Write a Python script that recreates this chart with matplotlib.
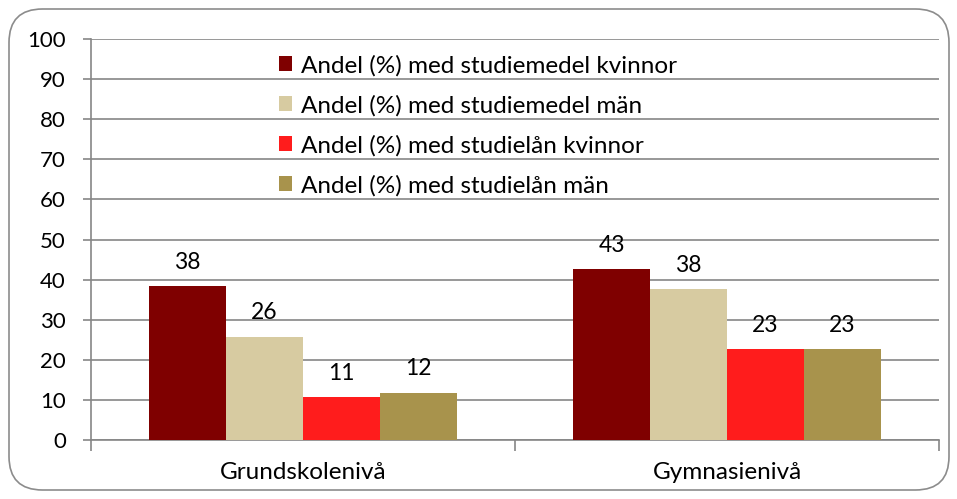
import numpy as np
import matplotlib
matplotlib.use("Agg")
from matplotlib import pyplot as plt
from matplotlib.patches import FancyBboxPatch

plt.rcParams['font.family'] = ['Lato', 'DejaVu Sans']

kategorier = ["Grundskolenivå", "Gymnasienivå"]
serier = ["Andel (%) med studiemedel kvinnor",
          "Andel (%) med studiemedel män",
          "Andel (%) med studielån kvinnor",
          "Andel (%) med studielån män"]
studiemedel_kvinnor = [38.3, 42.6]
studiemedel_man = [25.8, 37.6]
studielan_kvinnor = [10.6, 22.7]
studielan_man = [11.8, 22.7]
farger = ['#7F0000', '#D7CBA1', '#FF1C1C', '#A8934C']

varden = [studiemedel_kvinnor, studiemedel_man, studielan_kvinnor, studielan_man]

fig = plt.figure(figsize=(9.57, 4.99), dpi=100)
ax = fig.add_axes([91/957, 1-440/499, (939-91)/957, (440-39)/499])

# rundad ram runt diagrammet
ram = FancyBboxPatch((9/957, 9/499), (949-9)/957, (490-9)/499,
                     boxstyle="round,pad=0,rounding_size=0.035",
                     transform=fig.transFigure, facecolor='none',
                     edgecolor='#8c8c8c', linewidth=1.2, mutation_aspect=957/499)
fig.patches.append(ram)

x = np.arange(len(kategorier))
w = 0.1816
for i, (v, namn, f) in enumerate(zip(varden, serier, farger)):
    pos = x + (i - 1.5) * w
    ax.bar(pos, v, width=w, color=f, label=namn, zorder=3)
    for p, val in zip(pos, v):
        ax.text(p, val + 3.3, "%.0f" % val, ha='center', va='bottom', fontsize=16.5)

ax.set_xlim(-0.5, 1.5)
ax.set_ylim(0, 100)
ax.set_yticks(range(0, 101, 10))
ax.yaxis.grid(True, color='#868686', linewidth=1.2, zorder=0)
ax.set_xticks(x)
ax.set_xticklabels(kategorier, fontsize=17.5)
ax.set_xticks([-0.5, 0.5, 1.5], minor=True)
ax.tick_params(axis='x', which='major', length=0, pad=16)
ax.tick_params(axis='x', which='minor', length=8, color='#868686', width=1.2)
ax.tick_params(axis='y', length=6, color='#868686', width=1.2, labelsize=16, pad=12)
for s in ['top', 'right']:
    ax.spines[s].set_visible(False)
for s in ['left', 'bottom']:
    ax.spines[s].set_color('#868686')
    ax.spines[s].set_linewidth(1.2)

ax.legend(loc='upper left', bbox_to_anchor=(0.21, 0.985), frameon=False,
          fontsize=17.5, handlelength=0.55, handleheight=0.55, handletextpad=0.35,
          labelspacing=0.76, borderaxespad=0)

plt.savefig("out.png", dpi=100)
